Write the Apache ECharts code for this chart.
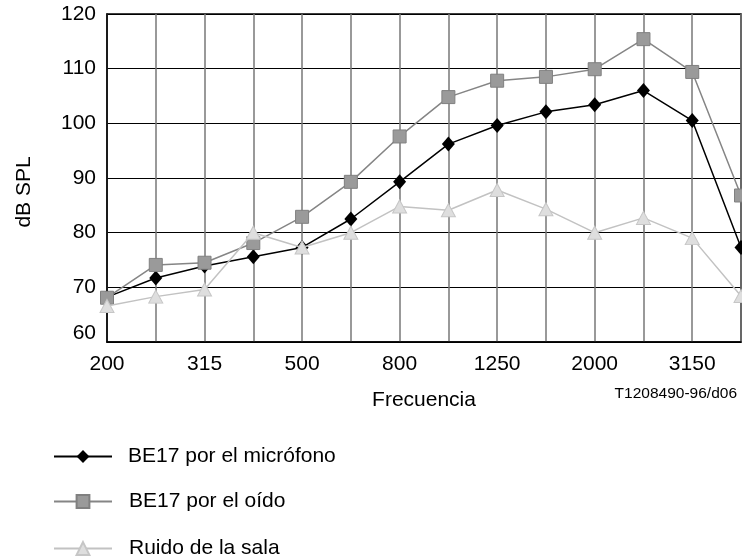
<!DOCTYPE html>
<html>
<head>
<meta charset="utf-8">
<script src="https://cdn.jsdelivr.net/npm/echarts@6/dist/echarts.min.js"></script>
<style>
  html, body { margin: 0; padding: 0; background: #fff; }
  #chart { width: 742px; height: 558px; }
</style>
</head>
<body>
<div id="chart"></div>
<script>
// Third-octave band centre frequencies (Hz)
const frequencies = ['200', '250', '315', '400', '500', '630', '800', '1000', '1250', '1600', '2000', '2500', '3150', '4000'];

// Sound pressure levels (dB SPL)
const microphoneLevels = [68.2, 71.7, 73.9, 75.6, 77.3, 82.5, 89.3, 96.2, 99.6, 102.1, 103.4, 106.0, 100.5, 77.3];
const earLevels        = [68.1, 74.1, 74.5, 78.1, 82.9, 89.3, 97.6, 104.8, 107.8, 108.5, 109.9, 115.4, 109.4, 86.8];
const roomNoiseLevels  = [66.6, 68.3, 69.6, 80.0, 77.3, 80.0, 84.8, 84.1, 87.8, 84.3, 80.0, 82.7, 79.0, 68.4];

const seriesNames = ['BE17 por el micrófono', 'BE17 por el oído', 'Ruido de la sala'];

const FONT = '"Liberation Sans", Arial, sans-serif';

const chart = echarts.init(document.getElementById('chart'), null, { renderer: 'canvas' });

function legendFor(name, top, padLeft) {
  return {
    data: [name],
    left: 53,
    top: top,
    padding: 0,
    orient: 'vertical',
    itemWidth: 58,
    itemHeight: 16,
    selectedMode: false,
    textStyle: { fontFamily: FONT, fontSize: 21, color: '#000', padding: [0, 0, 0, padLeft] }
  };
}

chart.setOption({
  animation: false,
  backgroundColor: '#fff',
  grid: {
    left: 107, right: 1, top: 14, bottom: 216,
    show: true, borderColor: '#000', borderWidth: 1.5, backgroundColor: 'transparent'
  },
  legend: [
    legendFor(seriesNames[0], 446, 11),
    legendFor(seriesNames[1], 491, 12),
    legendFor(seriesNames[2], 538, 12)
  ],
  title: {
    text: 'T1208490-96/d06',
    right: 0, top: 381,
    textStyle: { fontFamily: FONT, fontSize: 15.5, fontWeight: 'normal', color: '#000' }
  },
  graphic: [
    {
      type: 'text',
      x: 24, y: 192,
      rotation: Math.PI / 2,
      style: { text: 'dB SPL', font: '21px ' + FONT, fill: '#000', align: 'center', verticalAlign: 'middle' }
    }
  ],
  xAxis: {
    type: 'category',
    data: frequencies,
    boundaryGap: false,
    name: 'Frecuencia',
    nameLocation: 'middle',
    nameGap: 48,
    nameTextStyle: { fontFamily: FONT, fontSize: 21, color: '#000' },
    axisLine: { show: true, lineStyle: { color: '#000', width: 1.5 } },
    axisTick: { show: false },
    axisLabel: { interval: 1, margin: 12, fontFamily: FONT, fontSize: 21, color: '#000' },
    splitLine: { show: true, interval: 0, lineStyle: { color: '#777', width: 1.5 } }
  },
  yAxis: {
    type: 'value',
    min: 60, max: 120, interval: 10,
    axisLine: { show: true, lineStyle: { color: '#000', width: 1.5 } },
    axisTick: { show: false },
    axisLabel: {
      margin: 11,
      fontFamily: FONT, fontSize: 21, color: '#000',
      formatter: function (v) { return v === 60 ? '{low|60}' : String(v); },
      rich: { low: { fontFamily: FONT, fontSize: 21, color: '#000', padding: [0, 0, 18, 0] } }
    },
    splitLine: { show: true, lineStyle: { color: '#000', width: 1 } }
  },
  series: [
    {
      name: seriesNames[0],
      type: 'line',
      data: microphoneLevels,
      symbol: 'diamond',
      symbolSize: [13, 15],
      lineStyle: { color: '#000', width: 1.5 },
      itemStyle: { color: '#000', borderColor: '#000', borderWidth: 0 },
      z: 2
    },
    {
      name: seriesNames[1],
      type: 'line',
      data: earLevels,
      symbol: 'rect',
      symbolSize: 13,
      lineStyle: { color: '#858585', width: 1.5 },
      itemStyle: { color: '#9a9a9a', borderColor: '#808080', borderWidth: 1 },
      z: 3
    },
    {
      name: seriesNames[2],
      type: 'line',
      data: roomNoiseLevels,
      symbol: 'triangle',
      symbolSize: [14, 13],
      lineStyle: { color: '#c2c2c2', width: 1.5 },
      itemStyle: { color: '#dedede', borderColor: '#c6c6c6', borderWidth: 1 },
      z: 4
    }
  ]
});
</script>
</body>
</html>
